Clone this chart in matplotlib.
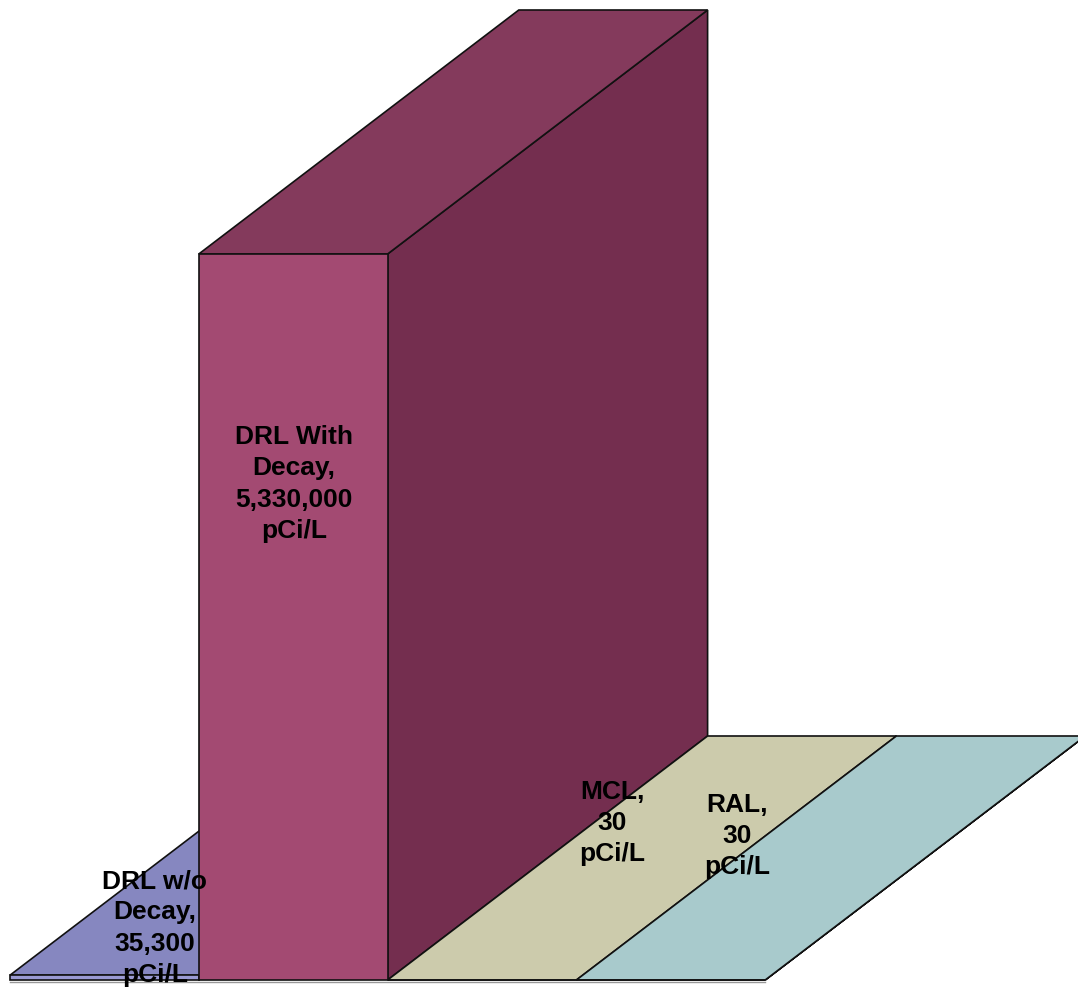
import matplotlib
matplotlib.use("Agg")
import matplotlib.pyplot as plt
from matplotlib.patches import Polygon

# ---- data ----
categories = ["DRL w/o\nDecay,", "DRL With\nDecay,", "MCL,", "RAL,"]
values = [35300, 5330000, 30, 30]
value_labels = ["35,300", "5,330,000", "30", "30"]
unit = "pCi/L"

# ---- styling ----
top_colors = ["#8687C0", "#843A5C", "#CCCBAC", "#A8CACC"]
front_colors = ["#9A9AD2", "#A34A72", "#D8D7BC", "#B8D6D8"]
side_colors = ["#6E6FA6", "#742E4F", "#B0AF90", "#8DB0B2"]

W, H = 1078, 989
fig = plt.figure(figsize=(W / 100, H / 100), dpi=100)
ax = fig.add_axes([0, 0, 1, 1])
ax.set_xlim(0, W)
ax.set_ylim(H, 0)
ax.axis("off")

# oblique projection: category x, value y, depth d in [0,1]
x0, bar_w = 10, 188.8
base_y = 980
top_px = 726.0
vmax = max(values)
ddx, ddy = 320, -244


def proj(x, v, d):
    return (x0 + x * bar_w + d * ddx, base_y - v / vmax * top_px + d * ddy)


ec = "#111111"
lw = 1.2
for i, v in enumerate(values):
    xl, xr = i, i + 1
    front = [proj(xl, 0, 0), proj(xr, 0, 0), proj(xr, v, 0), proj(xl, v, 0)]
    top = [proj(xl, v, 0), proj(xr, v, 0), proj(xr, v, 1), proj(xl, v, 1)]
    side = [proj(xr, 0, 0), proj(xr, 0, 1), proj(xr, v, 1), proj(xr, v, 0)]
    ax.add_patch(Polygon(side, closed=True, facecolor=side_colors[i], edgecolor=ec, lw=lw, zorder=2 + i))
    ax.add_patch(Polygon(top, closed=True, facecolor=top_colors[i], edgecolor=ec, lw=lw, zorder=2 + i))
    ax.add_patch(Polygon(front, closed=True, facecolor=front_colors[i], edgecolor=ec, lw=lw, zorder=2 + i))

# floor line
ax.plot([proj(0, 0, 0)[0], proj(4, 0, 0)[0]], [base_y + 2, base_y + 2], color="#999999", lw=1.0, zorder=1)

# labels (positions relative to bar geometry)
label_pos = [(155, 928), (294, 484), (612, 823), (737, 836)]
for i in range(len(values)):
    txt = f"{categories[i]}\n{value_labels[i]}\n{unit}"
    ax.text(label_pos[i][0], label_pos[i][1], txt, ha="center", va="center",
            fontsize=19, fontweight="bold", family=["Liberation Sans", "DejaVu Sans"],
            linespacing=1.38, zorder=20, color="black")

fig.savefig("out.png", dpi=100)
